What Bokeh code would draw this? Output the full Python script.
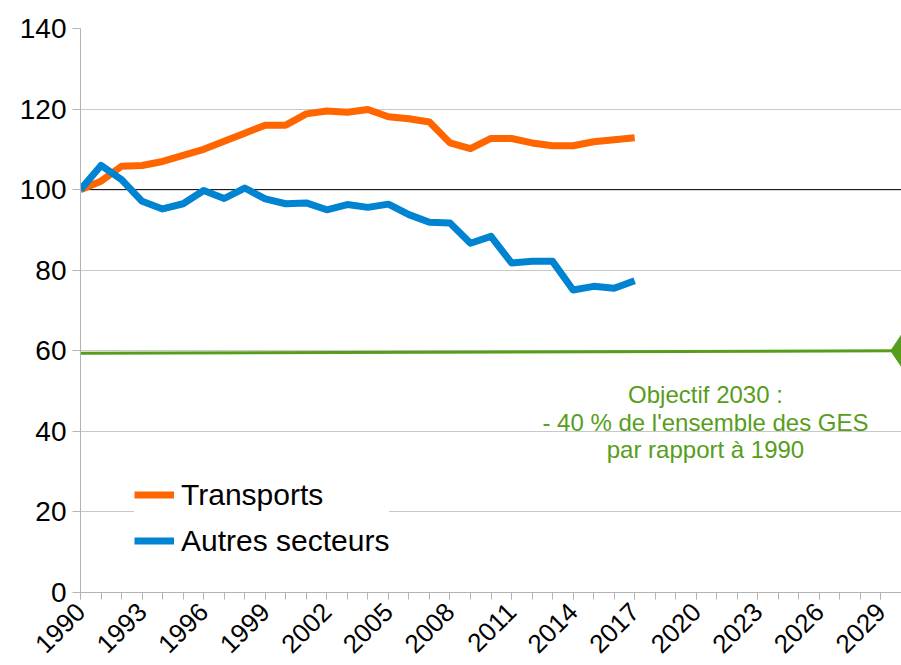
import math
from bokeh.plotting import figure
from bokeh.models import Range1d, FixedTicker, Span, Legend, LegendItem
from bokeh.core.properties import value
from bokeh.embed import file_html
from bokeh.resources import INLINE

# ---- data ----
years = list(range(1990, 2018))
transports = [100.0, 102.1, 105.8, 106.0, 107.0, 108.5, 110.0, 112.0, 114.0, 116.0,
              116.0, 118.8, 119.5, 119.2, 119.9, 118.1, 117.6, 116.8, 111.6, 110.2,
              112.7, 112.7, 111.6, 110.9, 110.9, 111.9, 112.4, 112.9]
autres = [100.0, 106.0, 102.5, 97.1, 95.2, 96.5, 99.8, 97.8, 100.4, 97.7,
          96.5, 96.7, 95.0, 96.3, 95.6, 96.4, 93.8, 91.9, 91.7, 86.7,
          88.4, 81.8, 82.2, 82.2, 75.1, 76.0, 75.5, 77.4]
goal_years = [1990, 2030]
goal_values = [59.4, 60.0]
goal_marker_year = [2030]
goal_marker_value = [60.0]

x_tick_years = list(range(1990, 2030, 3))
x_tick_labels = [str(y) for y in x_tick_years]
x_minor_years = list(range(1990, 2031))
y_ticks = [0, 20, 40, 60, 80, 100, 120, 140]
y_tick_labels = [str(v) for v in y_ticks]

series_names = ["Transports", "Autres secteurs"]
annotation_lines = ["Objectif 2030 :", "- 40 % de l'ensemble des GES", "par rapport à 1990"]

ORANGE = "#ff6600"
BLUE = "#0084d1"
GREEN = "#579d1c"
FONT = "Liberation Sans"

p = figure(width=901, height=665, output_backend="svg", toolbar_location=None,
           x_range=Range1d(1990, 2030), y_range=Range1d(0, 140),
           min_border_left=80, min_border_right=0, min_border_top=28,
           min_border_bottom=73)
p.outline_line_color = None
p.background_fill_color = "white"
p.border_fill_color = "white"

# axes
p.xaxis.ticker = FixedTicker(ticks=x_tick_years, minor_ticks=x_minor_years)
p.xaxis.major_label_overrides = {y: l for y, l in zip(x_tick_years, x_tick_labels)}
p.xaxis.major_label_orientation = math.pi / 4
p.xaxis.major_label_text_font = FONT
p.xaxis.major_label_text_font_size = "26px"
p.xaxis.major_label_text_color = "black"
p.xaxis.major_label_standoff = 8
p.xaxis.major_tick_in = 0
p.xaxis.major_tick_out = 7
p.xaxis.minor_tick_in = 0
p.xaxis.minor_tick_out = 7
p.xaxis.axis_line_color = "#b3b3b3"
p.xaxis.major_tick_line_color = "#b3b3b3"
p.xaxis.minor_tick_line_color = "#b3b3b3"

p.yaxis.ticker = FixedTicker(ticks=y_ticks)
p.yaxis.major_label_overrides = {v: l for v, l in zip(y_ticks, y_tick_labels)}
p.yaxis.major_label_text_font = FONT
p.yaxis.major_label_text_font_size = "28px"
p.yaxis.major_label_text_color = "black"
p.yaxis.major_label_standoff = 6
p.yaxis.major_tick_in = 0
p.yaxis.major_tick_out = 8
p.yaxis.minor_tick_line_color = None
p.yaxis.axis_line_color = "#b3b3b3"
p.yaxis.major_tick_line_color = "#b3b3b3"

p.xgrid.grid_line_color = None
p.ygrid.grid_line_color = "#c8c8c8"
p.ygrid.grid_line_width = 1

# reference line at 100
p.add_layout(Span(location=100, dimension="width", line_color="black",
                  line_width=1, level="underlay"))

# goal line
p.line(goal_years, goal_values, line_color=GREEN, line_width=3)
p.scatter(goal_marker_year, goal_marker_value, marker="diamond", size=32,
          fill_color=GREEN, line_color=GREEN)

r1 = p.line(years, transports, line_color=ORANGE, line_width=7, line_join="round")
r2 = p.line(years, autres, line_color=BLUE, line_width=7, line_join="round")

legend = Legend(items=[LegendItem(label=series_names[0], renderers=[r1]),
                       LegendItem(label=series_names[1], renderers=[r2])],
                location=(54, 34))
legend.label_text_font = FONT
legend.label_text_font_size = "30px"
legend.label_text_color = "black"
legend.glyph_width = 40
legend.glyph_height = 35
legend.label_height = 35
legend.label_standoff = 7
legend.padding = 12
legend.spacing = 11
legend.margin = 0
legend.border_line_color = None
legend.background_fill_color = "white"
legend.background_fill_alpha = 1.0
p.add_layout(legend)

p.text(x=[2020.45] * 3, y=[49.2, 42.3, 35.4], text=annotation_lines,
       text_align="center", text_baseline="alphabetic", text_color=GREEN,
       text_font=value(FONT), text_font_size="24px")

open("out.html", "w").write(file_html(p, INLINE))
